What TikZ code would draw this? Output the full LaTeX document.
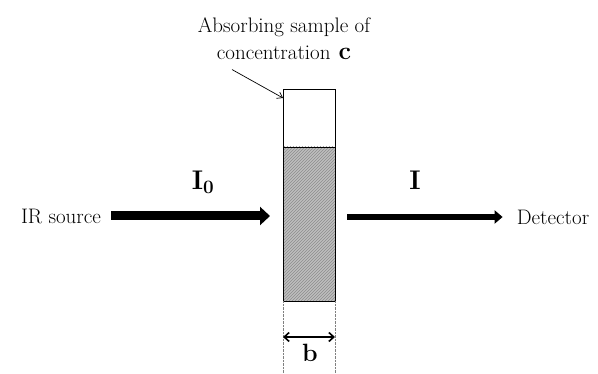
\documentclass[tikz,border=0pt]{standalone}
\usetikzlibrary{arrows.meta,positioning,patterns}

\begin{document}
\begin{tikzpicture}[x=1pt,y=-1pt,>=Stealth,font=\fontsize{21}{27}\selectfont]
\tikzstyle{cell}=[draw,line width=0.6pt,minimum width=52pt,inner sep=0pt,outer sep=0pt]
\tikzstyle{beam}=[-{Triangle[length=10pt,width=18pt]},line width=9pt]
\tikzstyle{big}=[font=\fontsize{27}{30}\selectfont\bfseries,inner sep=0pt]
\useasboundingbox (0,0) rectangle (598,374);
% sample cell
\node[cell,minimum height=58pt] (top) at (309,118) {};
\node[cell,minimum height=154pt,preaction={fill=gray!50},pattern=north east lines,pattern color=gray!90] (s) at (309,224) {};
% source and detector
\node[inner sep=2pt] (src) at (61,216) {IR source};
\node[inner sep=2pt] (det) at (553,217) {Detector};
\draw[beam,shorten <=8pt,shorten >=13pt] (src.east) -- (src.east -| s.west);
\draw[beam,line width=6pt,-{Triangle[length=8pt,width=13pt]},shorten <=12pt,shorten >=12pt] (s.east |- det.west) -- (det.west);
\node[big] (i0) at (203,182) {I\textsubscript{0}};
\node[big] (i) at (415,180) {I};
% label
\node[align=center] (lab) at (284,39) {Absorbing sample of\\concentration\hspace{8pt}{\fontsize{25}{27}\selectfont\bfseries c}};
\draw[-{Straight Barb[length=5pt,width=7pt]},line width=0.7pt] ([xshift=-52pt,yshift=-6pt]lab.south) -- ([yshift=-9pt]top.north west);
% path length b
\draw[densely dotted,gray] (s.south west) -- (s.south west |- 0,374);
\draw[densely dotted,gray] (s.south east) -- (s.south east |- 0,374);
\draw[{Straight Barb[length=5pt,width=9pt]}-{Straight Barb[length=5pt,width=9pt]},line width=1.6pt] ([yshift=-36pt]s.south west) -- ([yshift=-36pt]s.south east);
\node[font=\fontsize{25}{26}\selectfont\bfseries] (b) at (310,353) {b};
\end{tikzpicture}
\end{document}
